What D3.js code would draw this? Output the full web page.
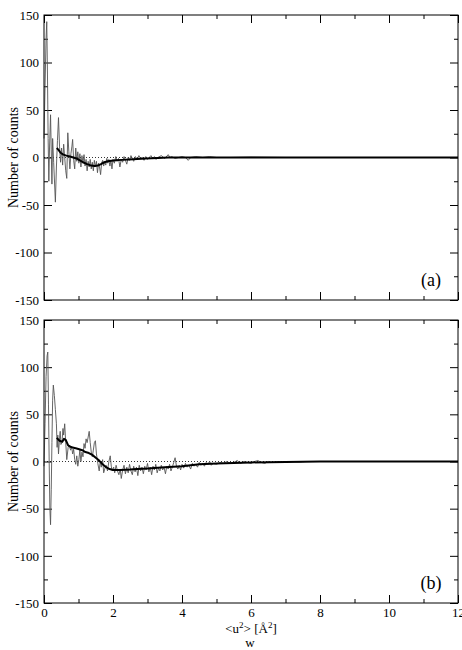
<!DOCTYPE html>
<html>
<head>
<meta charset="utf-8">
<script src="https://cdn.jsdelivr.net/npm/d3@7"></script>
<style>
  body { margin: 0; background: #fff; }
  svg { display: block; }
  svg text { font-family: "Liberation Serif", "Times New Roman", "DejaVu Serif", serif; }
</style>
</head>
<body>
<svg id="chart" width="462" height="650"></svg>
<script>
// values
const xMajor = [0, 2, 4, 6, 8, 10, 12];
const xMinor = [1, 3, 5, 7, 9, 11];
const yMajor = [-150, -100, -50, 0, 50, 100, 150];
const yMinor = [-125, -75, -25, 25, 75, 125];

const thinA = [
	[0.00, 20], [0.03, 75], [0.06, 125], [0.08, 143], [0.10, 90], [0.12, 20], [0.14, -25], [0.16, 10],
	[0.19, 45], [0.21, 8], [0.23, -28], [0.25, 20], [0.28, -5], [0.31, -30], [0.33, -47], [0.36, -10],
	[0.39, 18], [0.42, 42], [0.45, 12], [0.48, -5], [0.51, 10], [0.54, -8], [0.57, 14], [0.60, 0],
	[0.63, -14], [0.66, -22], [0.69, 26], [0.72, 6], [0.75, -12], [0.78, 4], [0.81, 12], [0.83, 19],
	[0.86, -3], [0.89, -12], [0.92, 10], [0.95, -4], [0.98, 6], [1.01, -6], [1.04, 4], [1.07, -10],
	[1.10, 2], [1.13, -6], [1.16, 3], [1.19, -9], [1.22, -2], [1.25, -14], [1.28, -4], [1.31, -10],
	[1.34, -2], [1.37, -12], [1.40, -5], [1.43, -14], [1.46, -3], [1.49, -10], [1.52, -4], [1.55, -16],
	[1.58, -6], [1.61, -10], [1.64, -18], [1.67, -6], [1.70, -3], [1.73, -9], [1.76, -4], [1.79, -8],
	[1.82, -1], [1.85, -6], [1.88, -2], [1.91, -9], [1.94, -3], [1.97, -12], [2.00, -2], [2.04, -6],
	[2.08, 1], [2.12, -4], [2.16, -1], [2.20, -10], [2.24, -2], [2.28, -5], [2.32, 1], [2.36, -3],
	[2.40, -7], [2.44, 0], [2.48, -3], [2.52, 2], [2.56, -1], [2.60, -4], [2.65, 1], [2.70, -2],
	[2.75, 2], [2.80, -1], [2.85, 0], [2.90, -3], [2.95, 1], [3.00, -2], [3.05, 0], [3.10, 2],
	[3.15, -1], [3.20, 1], [3.25, -2], [3.30, 0], [3.40, 2], [3.50, -1], [3.60, 3], [3.65, 0],
	[3.70, 1], [3.80, -1], [3.90, 0], [4.00, 1], [4.10, 0], [4.18, -3], [4.25, 0], [4.40, 1],
	[4.60, 0], [4.80, 1], [5.00, 0], [5.40, 0], [6.00, 0.5], [7.00, 0], [8.00, 0], [9.00, 0],
	[10.00, 0], [11.00, 0], [12.00, 0]
];

const thickA = [
	[0.37, 10], [0.42, 8], [0.48, 5], [0.56, 3], [0.65, 2], [0.75, 1], [0.85, 0], [0.94, -1],
	[1.04, -3], [1.13, -5], [1.25, -7], [1.37, -8.5], [1.47, -9], [1.56, -8.5], [1.65, -7], [1.75, -5],
	[1.85, -4], [1.95, -3.5], [2.08, -3], [2.25, -2.5], [2.47, -2], [2.70, -1.5], [2.95, -1], [3.30, -0.5],
	[3.60, 0], [12.00, 0]
];

const thinB = [
	[0.00, -5], [0.03, 40], [0.06, 90], [0.09, 112], [0.11, 116], [0.13, 60], [0.15, 0], [0.17, -50],
	[0.19, -67], [0.21, -30], [0.23, 20], [0.25, 65], [0.27, 81], [0.30, 70], [0.33, 55], [0.36, 40],
	[0.38, 15], [0.40, 28], [0.42, 8], [0.45, 25], [0.47, 32], [0.49, 18], [0.52, 20], [0.55, 35],
	[0.57, 28], [0.60, 40], [0.63, 20], [0.66, 2], [0.70, 15], [0.73, 17], [0.77, 12], [0.80, 16],
	[0.83, 8], [0.86, 13], [0.89, 2], [0.92, -3], [0.95, 6], [0.98, -5], [1.01, 2], [1.04, 12],
	[1.07, 0], [1.10, 10], [1.13, 5], [1.16, 19], [1.19, 14], [1.22, 24], [1.25, 20], [1.28, 26],
	[1.31, 32], [1.34, 20], [1.37, 10], [1.40, 5], [1.43, 12], [1.46, 20], [1.49, 22], [1.52, 8],
	[1.56, -2], [1.60, -10], [1.63, 0], [1.66, -6], [1.70, 2], [1.73, -12], [1.76, -8], [1.80, -4],
	[1.84, -10], [1.88, 0], [1.92, 6], [1.95, -5], [1.98, -10], [2.02, -6], [2.05, -12], [2.09, -4],
	[2.13, -10], [2.17, -14], [2.21, -8], [2.24, -18], [2.28, -9], [2.32, -4], [2.36, -13], [2.40, -6],
	[2.44, -12], [2.48, -3], [2.52, -10], [2.56, -14], [2.60, -5], [2.64, -11], [2.68, -6], [2.72, -15],
	[2.76, -4], [2.80, -10], [2.84, -6], [2.88, -13], [2.92, -5], [2.96, -9], [3.00, -2], [3.04, -11],
	[3.08, -6], [3.12, -14], [3.16, -5], [3.20, -9], [3.24, -3], [3.28, -12], [3.32, -7], [3.36, -10],
	[3.40, -4], [3.44, -9], [3.48, -6], [3.52, -13], [3.56, -5], [3.60, -8], [3.64, -3], [3.68, -10],
	[3.72, -6], [3.76, -1], [3.80, 4], [3.84, -5], [3.88, -8], [3.92, -4], [3.96, -9], [4.00, -3],
	[4.05, -7], [4.10, -2], [4.15, -6], [4.20, -4], [4.25, -8], [4.30, -2], [4.35, -5], [4.40, -3],
	[4.45, -6], [4.50, -1], [4.55, -4], [4.60, -2], [4.65, -5], [4.70, -1], [4.75, -3], [4.80, 0],
	[4.85, -4], [4.90, -2], [5.00, -3], [5.10, -1], [5.20, -2], [5.30, 0], [5.40, -2], [5.50, -1],
	[5.60, 1], [5.70, -2], [5.80, 0], [5.90, -1], [6.00, -2], [6.10, 0], [6.20, 1], [6.30, -1],
	[6.40, -2], [6.50, 0], [6.60, -1], [6.80, 0], [7.00, -1], [7.20, 0], [7.40, -0.5], [7.60, 0],
	[8.00, 0], [8.50, 0], [9.00, 0], [10.00, 0], [11.00, 0], [12.00, 0]
];

const thickB = [
	[0.37, 25], [0.45, 22], [0.53, 21], [0.58, 24], [0.63, 23], [0.70, 17], [0.80, 15], [0.92, 14],
	[1.02, 13], [1.11, 12], [1.20, 10], [1.30, 9], [1.40, 7], [1.50, 4], [1.60, 1], [1.70, -3],
	[1.80, -6], [1.90, -8], [2.00, -9], [2.20, -9], [2.50, -8.5], [2.70, -8], [3.00, -7.5], [3.50, -6],
	[4.00, -5], [4.50, -3], [5.00, -2], [5.50, -1.5], [6.00, -1], [7.00, -0.5], [8.00, 0], [12.00, 0]
];

const svg = d3.select('#chart');
const x = d3.scaleLinear().domain([0, 12]).range([44, 458]);
const serif = '"Liberation Serif", "Times New Roman", serif';
const plain = (d) => String(d); // hyphen minus, like the original

function panel(top, bottom, thin, thick, tag, xLabels) {
	const y = d3.scaleLinear().domain([-150, 150]).range([bottom, top]);
	const g = svg.append('g');

	// ticks, all pointing inward
	const addAxis = (axis, tf) => g.append('g').attr('transform', tf).call(axis)
		.attr('font-family', serif).attr('font-size', 13)
		.call((s) => s.select('.domain').remove());

	addAxis(d3.axisLeft(y).tickValues(yMajor).tickSize(-8).tickPadding(5).tickFormat(plain), `translate(${x(0)},0)`);
	addAxis(d3.axisLeft(y).tickValues(yMinor).tickSize(-4).tickFormat(''), `translate(${x(0)},0)`);
	addAxis(d3.axisRight(y).tickValues(yMajor).tickSize(-8).tickFormat(''), `translate(${x(12)},0)`);
	addAxis(d3.axisRight(y).tickValues(yMinor).tickSize(-4).tickFormat(''), `translate(${x(12)},0)`);
	addAxis(d3.axisTop(x).tickValues(xMajor).tickSize(-8).tickFormat(''), `translate(0,${top})`);
	addAxis(d3.axisTop(x).tickValues(xMinor).tickSize(-4).tickFormat(''), `translate(0,${top})`);
	addAxis(d3.axisBottom(x).tickValues(xMajor).tickSize(-8).tickPadding(5).tickFormat(xLabels ? plain : ''), `translate(0,${bottom})`);
	addAxis(d3.axisBottom(x).tickValues(xMinor).tickSize(-4).tickFormat(''), `translate(0,${bottom})`);

	g.append('line')
		.attr('x1', x(0)).attr('x2', x(12))
		.attr('y1', y(0)).attr('y2', y(0))
		.attr('stroke', '#000').attr('stroke-width', 0.8).attr('stroke-dasharray', '1,2');

	const line = d3.line().x((d) => x(d[0])).y((d) => y(d[1]));

	g.append('path').datum(thin)
		.attr('d', line).attr('fill', 'none')
		.attr('stroke', '#555').attr('stroke-width', 0.9).attr('stroke-linejoin', 'round');
	g.append('path').datum(thick)
		.attr('d', line).attr('fill', 'none')
		.attr('stroke', '#000').attr('stroke-width', 2).attr('stroke-linejoin', 'round');

	g.append('rect')
		.attr('x', x(0)).attr('y', top)
		.attr('width', x(12) - x(0)).attr('height', bottom - top)
		.attr('fill', 'none').attr('stroke', '#000').attr('stroke-width', 1);

	g.append('text')
		.attr('transform', `translate(13,${(top + bottom) / 2}) rotate(-90)`)
		.attr('text-anchor', 'middle').attr('dominant-baseline', 'central')
		.attr('font-family', serif).attr('font-size', 14).text('Number of counts');

	g.append('text')
		.attr('x', 431).attr('y', bottom - 14)
		.attr('text-anchor', 'middle')
		.attr('font-family', serif).attr('font-size', 18).text(tag);
}

panel(15, 300, thinA, thickA, '(a)', false);
panel(320, 603, thinB, thickB, '(b)', true);

// x axis title
const title = svg.append('text')
	.attr('x', 251).attr('y', 633)
	.attr('text-anchor', 'middle')
	.attr('font-family', serif).attr('font-size', 13);
title.append('tspan').text('<u');
title.append('tspan').attr('font-size', 9).attr('dy', -5).text('2');
title.append('tspan').attr('dy', 5).text('> [Å');
title.append('tspan').attr('font-size', 9).attr('dy', -5).text('2');
title.append('tspan').attr('dy', 5).text(']');

svg.append('text')
	.attr('x', 250).attr('y', 647)
	.attr('text-anchor', 'middle')
	.attr('font-family', serif).attr('font-size', 13).text('w');
</script>
</body>
</html>
